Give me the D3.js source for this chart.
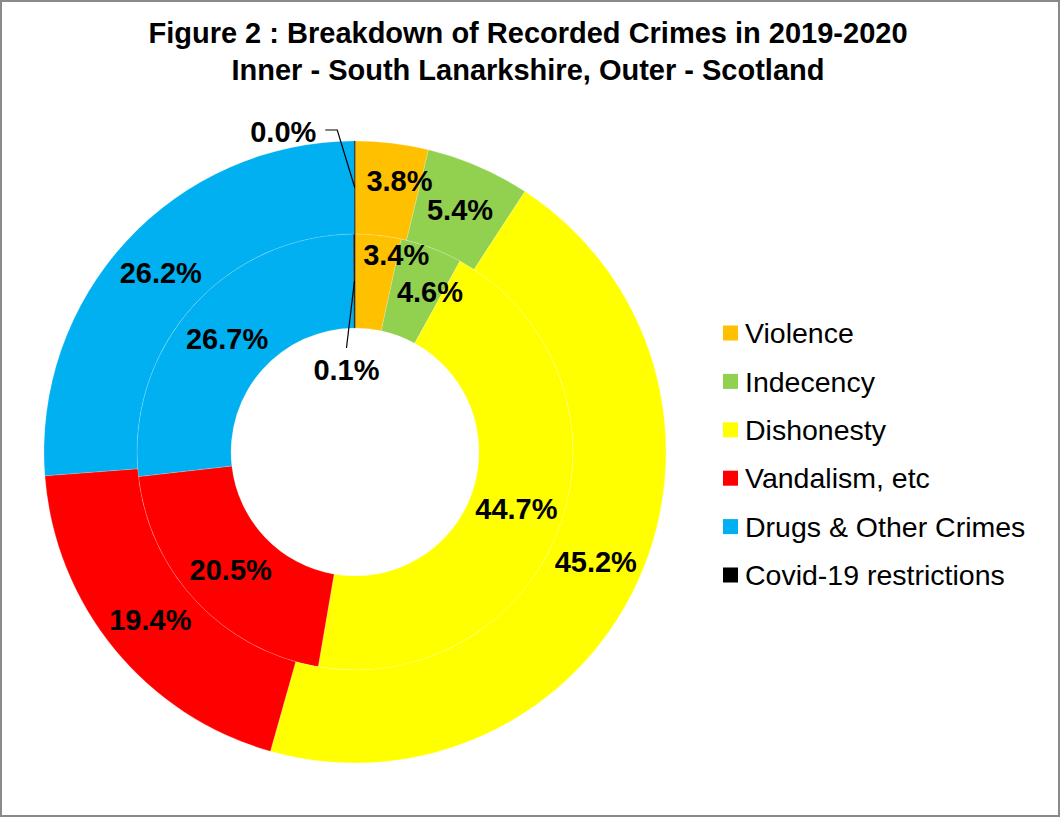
<!DOCTYPE html>
<html>
<head>
<meta charset="utf-8">
<script src="https://cdn.jsdelivr.net/npm/d3@7"></script>
<style>
  html, body { margin: 0; padding: 0; background: #fff; }
  svg { display: block; }
  text { font-family: "Liberation Sans", Arial, sans-serif; }
</style>
</head>
<body>
<svg id="chart" width="1060" height="817"></svg>
<script>
// ---- data ----
const categories = ["Violence", "Indecency", "Dishonesty", "Vandalism, etc", "Drugs & Other Crimes", "Covid-19 restrictions"];
const colors = ["#FFC000", "#92D050", "#FFFF00", "#FF0000", "#00B0F0", "#000000"];
const innerValues = [3.4, 4.6, 44.7, 20.5, 26.7, 0.1];   // South Lanarkshire
const outerValues = [3.8, 5.4, 45.2, 19.4, 26.2, 0.03];  // Scotland
const titleLines = ["Figure 2 : Breakdown of Recorded Crimes in 2019-2020", "Inner - South Lanarkshire, Outer - Scotland"];

// ---- layout ----
const W = 1060, H = 817;
const cx = 355, cy = 452;
const rHole = 124, rMid = 218, rOuter = 311;

const svg = d3.select("#chart");
svg.append("rect").attr("x", 1).attr("y", 1).attr("width", W - 2).attr("height", H - 2)
  .attr("fill", "#fff").attr("stroke", "#8a8a8a").attr("stroke-width", 2);

svg.append("g").selectAll("text").data(titleLines).join("text")
  .attr("x", 528).attr("y", (d, i) => 43 + i * 37)
  .attr("text-anchor", "middle").attr("font-weight", "bold").attr("font-size", 29)
  .attr("fill", "#000").text(d => d);

const pie = d3.pie().sort(null).value(d => d);
const g = svg.append("g").attr("transform", `translate(${cx},${cy})`);

const rings = [
  { key: "inner", values: innerValues, arc: d3.arc().innerRadius(rHole).outerRadius(rMid) },
  { key: "outer", values: outerValues, arc: d3.arc().innerRadius(rMid).outerRadius(rOuter) }
];

// label nudges (layout only)
const nudges = {
  inner: { 0: [23, -27], 1: [15, 0], 5: [-8, 89] },
  outer: { 0: [13, -9], 5: [-71.5, -55.5] }
};

rings.forEach(ring => {
  const arcs = pie(ring.values);
  g.append("g").selectAll("path").data(arcs).join("path")
    .attr("d", ring.arc)
    .attr("fill", (d, i) => colors[i])
    .attr("stroke", (d, i) => i === 5 ? "#404040" : "rgba(255,255,255,0.35)")
    .attr("stroke-width", (d, i) => i === 5 ? 0.8 : 0.5);
});

rings.forEach(ring => {
  const arcs = pie(ring.values);
  const lg = g.append("g");
  arcs.forEach((d, i) => {
    const c = ring.arc.centroid(d);
    const n = (nudges[ring.key] || {})[i] || [0, 0];
    const lx = c[0] + n[0], ly = c[1] + n[1];
    if (i === 5) {
      if (ring.key === "outer") {
        lg.append("polyline")
          .attr("points", `${c[0]},${c[1]} ${lx + 54},${ly - 2} ${lx + 42},${ly - 2}`)
          .attr("fill", "none").attr("stroke", "#000").attr("stroke-width", 1.2);
      } else {
        lg.append("line")
          .attr("x1", c[0]).attr("y1", c[1]).attr("x2", lx).attr("y2", ly - 22)
          .attr("stroke", "#000").attr("stroke-width", 1.2);
      }
    }
    lg.append("text")
      .attr("x", lx).attr("y", ly).attr("dy", "0.36em")
      .attr("text-anchor", "middle").attr("font-weight", "bold").attr("font-size", 29)
      .attr("fill", "#000")
      .text(d.data.toFixed(1) + "%");
  });
});

// legend
const legend = svg.append("g").attr("transform", "translate(723,333)");
const rows = legend.selectAll("g").data(categories).join("g")
  .attr("transform", (d, i) => `translate(0,${i * 48.4})`);
rows.append("rect").attr("x", 0).attr("y", -7.5).attr("width", 15).attr("height", 15)
  .attr("fill", (d, i) => colors[i]);
rows.append("text").attr("x", 22).attr("y", 0).attr("dy", "0.36em")
  .attr("font-size", 28.5).attr("fill", "#000").text(d => d);
</script>
</body>
</html>
